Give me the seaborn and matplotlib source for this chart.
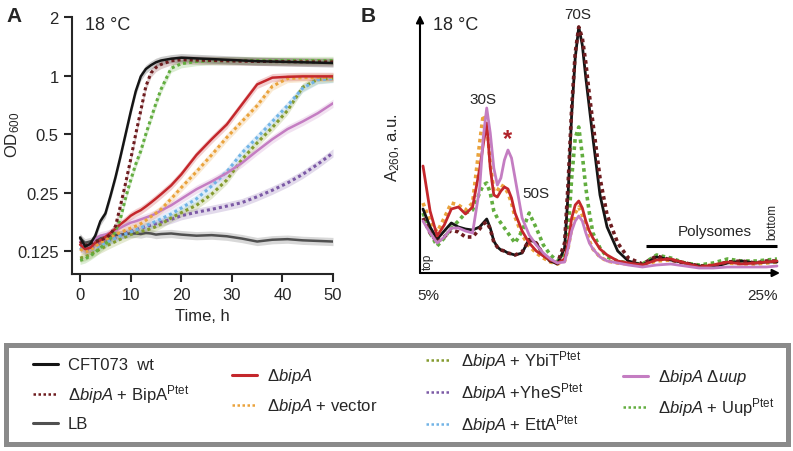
"""
Growth curves (A) and polysome profiles (B) at 18 °C
"""

import numpy as np
import pandas as pd
import matplotlib
matplotlib.use("Agg")
import matplotlib.pyplot as plt
import seaborn as sns
from matplotlib.lines import Line2D
from matplotlib.patches import Rectangle
from matplotlib.ticker import FixedLocator, FixedFormatter, NullLocator

# ---------------- datos panel A (OD600 vs tiempo) ----------------
time_h = [0, 1, 2, 3, 4, 5, 6, 7, 8, 9, 10, 11, 12, 13, 14, 15, 16, 18, 20,
          23, 26, 29, 32, 35, 38, 41, 44, 47, 50]

od_wt = [0.147, 0.132, 0.136, 0.150, 0.178, 0.195, 0.240, 0.300, 0.385, 0.500,
         0.650, 0.830, 0.990, 1.080, 1.130, 1.170, 1.195, 1.220, 1.235, 1.225,
         1.215, 1.205, 1.195, 1.185, 1.180, 1.175, 1.170, 1.165, 1.160]
od_bipa_comp = [0.140, 0.133, 0.137, 0.140, 0.142, 0.146, 0.152, 0.168, 0.215, 0.280,
                0.370, 0.500, 0.660, 0.880, 1.030, 1.100, 1.140, 1.190, 1.205, 1.200,
                1.195, 1.190, 1.185, 1.182, 1.180, 1.178, 1.176, 1.175, 1.175]
od_lb = [0.145, 0.138, 0.140, 0.143, 0.146, 0.148, 0.150, 0.151, 0.152, 0.153,
         0.154, 0.154, 0.153, 0.155, 0.154, 0.152, 0.153, 0.154, 0.152, 0.150,
         0.151, 0.149, 0.145, 0.140, 0.143, 0.144, 0.142, 0.141, 0.140]
od_dbipa = [0.135, 0.128, 0.130, 0.138, 0.142, 0.148, 0.155, 0.163, 0.172, 0.180,
            0.190, 0.197, 0.203, 0.212, 0.222, 0.233, 0.245, 0.272, 0.310, 0.390,
            0.470, 0.560, 0.710, 0.900, 0.975, 0.985, 0.990, 0.990, 0.990]
od_vector = [0.128, 0.124, 0.126, 0.132, 0.138, 0.143, 0.148, 0.152, 0.156, 0.160,
             0.164, 0.168, 0.173, 0.180, 0.188, 0.196, 0.205, 0.232, 0.265, 0.320,
             0.390, 0.480, 0.580, 0.700, 0.880, 0.965, 0.975, 0.978, 0.980]
od_ybit = [0.115, 0.117, 0.120, 0.124, 0.128, 0.132, 0.136, 0.140, 0.144, 0.148,
           0.152, 0.155, 0.158, 0.160, 0.163, 0.167, 0.172, 0.185, 0.197, 0.215,
           0.245, 0.290, 0.370, 0.450, 0.540, 0.660, 0.870, 0.955, 0.970]
od_yhes = [0.130, 0.126, 0.128, 0.133, 0.137, 0.140, 0.143, 0.147, 0.151, 0.155,
           0.158, 0.161, 0.164, 0.167, 0.170, 0.173, 0.176, 0.182, 0.190, 0.198,
           0.205, 0.213, 0.222, 0.238, 0.257, 0.280, 0.310, 0.350, 0.400]
od_etta = [0.130, 0.125, 0.126, 0.130, 0.134, 0.138, 0.142, 0.146, 0.150, 0.153,
           0.157, 0.160, 0.165, 0.169, 0.173, 0.178, 0.183, 0.194, 0.208, 0.232,
           0.270, 0.320, 0.400, 0.480, 0.580, 0.700, 0.860, 0.950, 0.965]
od_duup = [0.140, 0.132, 0.135, 0.145, 0.150, 0.152, 0.155, 0.160, 0.165, 0.170,
           0.175, 0.178, 0.182, 0.186, 0.190, 0.195, 0.202, 0.215, 0.232, 0.260,
           0.285, 0.315, 0.355, 0.410, 0.470, 0.530, 0.580, 0.640, 0.720]
od_uup = [0.112, 0.114, 0.118, 0.123, 0.130, 0.136, 0.145, 0.158, 0.185, 0.235,
          0.290, 0.350, 0.410, 0.500, 0.600, 0.720, 0.850, 1.090, 1.150, 1.180,
          1.190, 1.192, 1.195, 1.195, 1.195, 1.195, 1.195, 1.195, 1.195]

od_ticks = [0.125, 0.25, 0.5, 1, 2]
od_ticklabels = ["0.125", "0.25", "0.5", "1", "2"]
time_ticks = [0, 10, 20, 30, 40, 50]

# ---------------- datos panel B (A260 vs posición en gradiente) ----------------
gradient_pos = [0, 2, 4, 6, 8, 10, 12, 14, 16, 17, 18, 19, 20, 21, 22, 23, 24, 25,
                26, 28, 30, 32, 34, 36, 38, 40, 41, 42, 43, 44, 45, 46, 47, 48,
                50, 52, 55, 58, 62, 66, 70, 74, 78, 82, 86, 90, 94, 97, 100]

a260_wt = [64, 46, 34, 42, 50, 46, 44, 43, 46, 50, 54, 45, 32, 26, 23, 22, 20, 19,
           18, 20, 34, 30, 18, 12, 9, 25, 80, 159, 215, 246, 228, 195, 165, 135,
           78, 46, 22, 12, 8, 16, 13, 10, 7, 6, 10, 12, 10, 11, 11]
a260_bipa_comp = [55, 40, 31, 36, 43, 41, 36, 36, 44, 49, 51, 44, 31, 26, 23, 22, 20, 19,
                  18, 21, 33, 30, 18, 12, 10, 30, 90, 165, 220, 246, 235, 210, 178, 150,
                  95, 58, 30, 15, 9, 17, 13, 10, 7, 7, 11, 12, 10, 12, 12]
a260_dbipa = [107, 62, 37, 48, 64, 66, 59, 66, 104, 128, 150, 105, 78, 76, 82, 86, 84, 75,
              60, 42, 30, 22, 17, 13, 10, 14, 30, 55, 68, 72, 65, 52, 42, 35,
              24, 18, 12, 10, 8, 13, 14, 10, 6, 8, 11, 9, 10, 11, 12]
a260_vector = [70, 52, 41, 55, 70, 68, 63, 70, 130, 158, 150, 110, 82, 82, 88, 86, 80, 70,
               56, 38, 27, 20, 15, 11, 9, 12, 25, 45, 60, 66, 58, 45, 32, 24,
               16, 12, 10, 9, 8, 12, 13, 10, 7, 8, 10, 9, 9, 10, 11]
a260_duup = [52, 40, 30, 36, 45, 45, 42, 40, 85, 135, 165, 140, 105, 88, 95, 113, 123, 115,
             95, 55, 38, 28, 20, 14, 10, 11, 25, 42, 52, 57, 52, 40, 30, 24,
             16, 12, 10, 8, 6, 8, 9, 7, 5, 5, 6, 6, 6, 6, 7]
a260_uup = [60, 40, 27, 35, 45, 52, 60, 63, 80, 88, 90, 80, 62, 55, 50, 45, 40, 35,
            30, 42, 60, 45, 28, 18, 12, 20, 42, 95, 135, 146, 118, 85, 60, 40,
            25, 16, 12, 10, 9, 18, 15, 10, 8, 10, 14, 12, 12, 13, 14]

# ---------------- estilos ----------------
C_WT = "#151515"
C_BIPA = "#6e1c1f"
C_LB = "#505050"
C_DBIPA = "#c4272c"
C_VEC = "#eaa33c"
C_YBIT = "#849b2e"
C_YHES = "#7c5aa6"
C_ETTA = "#72b4e6"
C_DUUP = "#c47dc2"
C_UUP = "#62ad3f"
DOT = (0, (1, 1))

W, H = 793, 452

sns.set_style("ticks")
plt.rcParams["font.family"] = ["Liberation Sans", "DejaVu Sans"]
plt.rcParams["mathtext.fontset"] = "custom"
plt.rcParams["mathtext.rm"] = "Liberation Sans"
plt.rcParams["mathtext.it"] = "Liberation Sans:italic"
plt.rcParams["mathtext.bf"] = "Liberation Sans:bold"


def fig_rect(x0, y0, x1, y1):
    """Convierte píxeles (arriba-izquierda) a fracción de figura"""
    return [x0 / W, 1 - y1 / H, (x1 - x0) / W, (y1 - y0) / H]


fig = plt.figure(figsize=(W / 100, H / 100), dpi=100)

# ======================= Panel A =======================
ax_a = fig.add_axes(fig_rect(72, 18, 333, 275))
ax_a.set_yscale("log", base=2)

series_a = [
    (od_lb, C_LB, "-", 1.8),
    (od_yhes, C_YHES, DOT, 2.2),
    (od_ybit, C_YBIT, DOT, 2.2),
    (od_etta, C_ETTA, DOT, 2.2),
    (od_duup, C_DUUP, "-", 1.8),
    (od_vector, C_VEC, DOT, 2.2),
    (od_dbipa, C_DBIPA, "-", 1.8),
    (od_uup, C_UUP, DOT, 2.2),
    (od_bipa_comp, C_BIPA, DOT, 2.2),
    (od_wt, C_WT, "-", 1.8),
]
t = np.array(time_h)
for vals, col, ls, lw in series_a:
    v = np.array(vals)
    ax_a.fill_between(t, v / 1.05, v * 1.05, color=col, alpha=0.22, lw=0)
    sns.lineplot(x=t, y=v, color=col, linestyle=ls, linewidth=lw, ax=ax_a)

ax_a.set_xlim(-1.6, 50)
ax_a.set_ylim(0.0953, 2)
ax_a.yaxis.set_major_locator(FixedLocator(od_ticks))
ax_a.yaxis.set_major_formatter(FixedFormatter(od_ticklabels))
ax_a.yaxis.set_minor_locator(NullLocator())
ax_a.set_xticks(time_ticks)
ax_a.tick_params(axis="both", labelsize=12, length=6, width=1.5, direction="out")
for s in ["top", "right"]:
    ax_a.spines[s].set_visible(False)
for s in ["left", "bottom"]:
    ax_a.spines[s].set_linewidth(1.5)
ax_a.set_xlabel("Time, h", fontsize=12, labelpad=4)
ax_a.set_ylabel("")
fig.text(13 / W, 1 - 135 / H, "OD$_{600}$", fontsize=12, rotation=90, ha="center", va="center")
ax_a.text(0.05, 0.97, "18 °C", transform=ax_a.transAxes, fontsize=13, va="center")

# ======================= Panel B =======================
ax_b = fig.add_axes(fig_rect(420, 16, 780, 274))
series_b = [
    (a260_vector, C_VEC, DOT, 2.6),
    (a260_uup, C_UUP, DOT, 2.6),
    (a260_wt, C_WT, "-", 2.0),
    (a260_bipa_comp, C_BIPA, DOT, 2.6),
    (a260_dbipa, C_DBIPA, "-", 2.0),
    (a260_duup, C_DUUP, "-", 2.0),
]
for vals, col, ls, lw in series_b:
    sns.lineplot(x=gradient_pos, y=vals, color=col, linestyle=ls, linewidth=lw, ax=ax_b)

ax_b.set_xlim(-0.85, 100.85)
ax_b.set_ylim(0, 258)
ax_b.set_xticks([])
ax_b.set_yticks([])
for s in ax_b.spines.values():
    s.set_visible(False)
arrow = dict(arrowstyle="-|>", lw=1.5, color="k", mutation_scale=11, shrinkA=0, shrinkB=0)
ax_b.annotate("", xy=(1, 0), xytext=(0, 0), xycoords="axes fraction", arrowprops=arrow)
ax_b.annotate("", xy=(0, 1), xytext=(0, 0), xycoords="axes fraction", arrowprops=arrow)

ax_b.text(0.035, 0.965, "18 °C", transform=ax_b.transAxes, fontsize=13, va="center")
ax_b.text(17, 174, "30S", fontsize=11, ha="center", va="center")
ax_b.text(24, 134, "*", fontsize=17, ha="center", va="center", color="#b0242b", fontweight="bold")
ax_b.text(32, 80, "50S", fontsize=11, ha="center", va="center")
ax_b.text(43.8, 259, "70S", fontsize=11, ha="center", va="center", clip_on=False)
ax_b.hlines(27, 63, 100, color="k", lw=2.2)
ax_b.text(82.5, 42, "Polysomes", fontsize=11, ha="center", va="center")
ax_b.text(98.7, 52, "bottom", fontsize=8.5, rotation=90, ha="center", va="center")
ax_b.text(1.5, 12, "top", fontsize=8.5, rotation=90, ha="center", va="center")

fig.text(393 / W, 1 - 148 / H, "A$_{260}$, a.u.", fontsize=12, rotation=90, ha="center", va="center")
fig.text(428 / W, 1 - 296 / H, "5%", fontsize=11, ha="center", va="center")
fig.text(762 / W, 1 - 296 / H, "25%", fontsize=11, ha="center", va="center")

# letras de panel
fig.text(14 / W, 1 - 16 / H, "A", fontsize=15, fontweight="bold", ha="center", va="center")
fig.text(368 / W, 1 - 16 / H, "B", fontsize=15, fontweight="bold", ha="center", va="center")

# ======================= Leyenda =======================
fig.patches.append(Rectangle((5.5 / W, 1 - 444.5 / H), 782 / W, 99 / H,
                             transform=fig.transFigure, fill=False,
                             edgecolor="#8a8a8a", linewidth=3.6))

legend_entries = [
    ("CFT073  wt", C_WT, "-", 33, 366),
    ("Δ$\\mathit{bipA}$ + BipA$^{\\mathrm{Ptet}}$", C_BIPA, DOT, 33, 395),
    ("LB", C_LB, "-", 33, 425),
    ("Δ$\\mathit{bipA}$", C_DBIPA, "-", 232, 377),
    ("Δ$\\mathit{bipA}$ + vector", C_VEC, DOT, 232, 407),
    ("Δ$\\mathit{bipA}$ + YbiT$^{\\mathrm{Ptet}}$", C_YBIT, DOT, 426, 361),
    ("Δ$\\mathit{bipA}$ +YheS$^{\\mathrm{Ptet}}$", C_YHES, DOT, 426, 393),
    ("Δ$\\mathit{bipA}$ + EttA$^{\\mathrm{Ptet}}$", C_ETTA, DOT, 426, 425),
    ("Δ$\\mathit{bipA}$ Δ$\\mathit{uup}$", C_DUUP, "-", 623, 378),
    ("Δ$\\mathit{bipA}$ + Uup$^{\\mathrm{Ptet}}$", C_UUP, DOT, 623, 408),
]
for label, col, ls, lx, ly in legend_entries:
    lw = 2.2 if ls == "-" else 1.8
    h = Line2D([], [], color=col, linestyle=ls, linewidth=lw)
    fig.legend([h], [label], loc="center left", bbox_to_anchor=(lx / W, 1 - ly / H),
               frameon=False, fontsize=12, borderpad=0, borderaxespad=0,
               handlelength=1.5, handletextpad=0.6)

plt.savefig("out.png", dpi=100)
plt.close()
